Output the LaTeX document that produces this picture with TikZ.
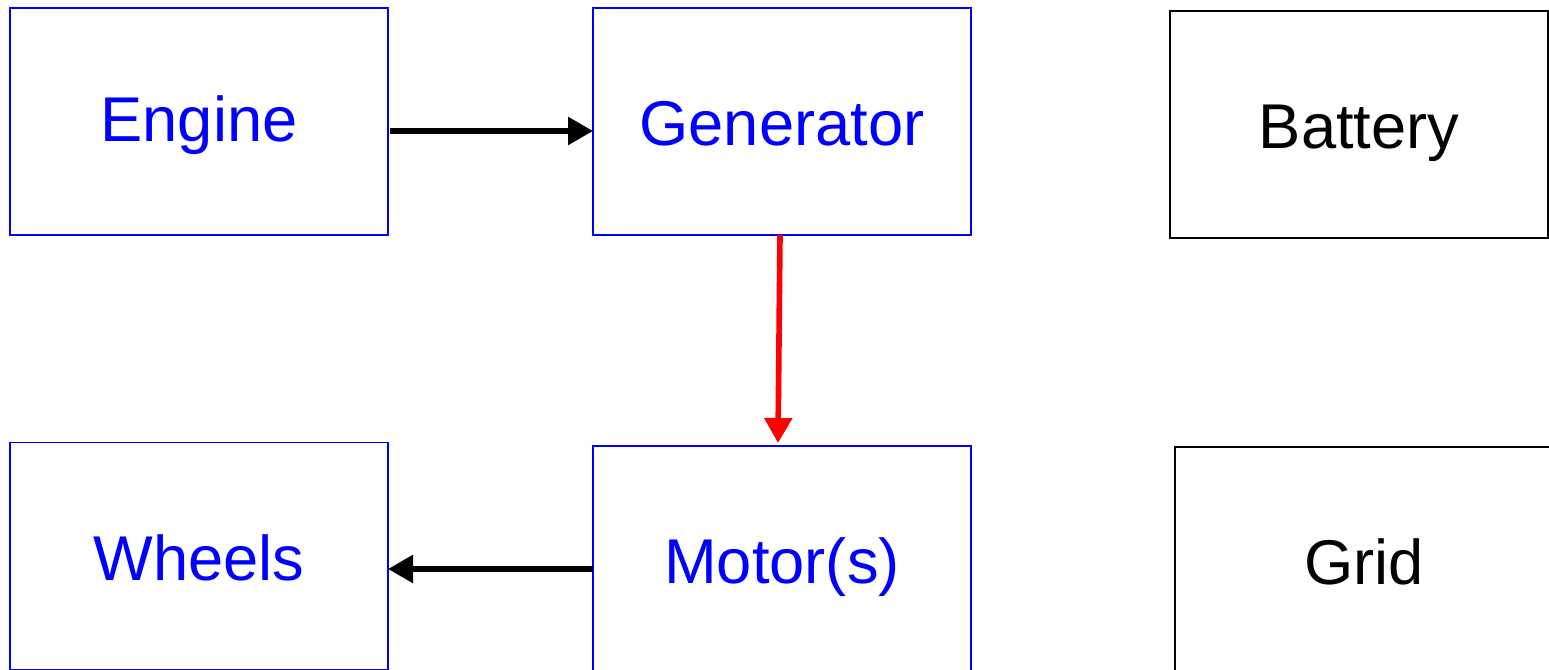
\documentclass[tikz,border=0pt]{standalone}
\usepackage{fontspec}
\setmainfont{Liberation Sans}
\usetikzlibrary{arrows.meta}

\begin{document}
\begin{tikzpicture}[
      part/.style={draw=blue, text=blue, line width=1pt, minimum width=7.56cm, minimum height=4.54cm, inner sep=0pt, outer sep=0pt, font=\fontsize{36}{43}\selectfont, text height=36pt, text depth=8.6pt},
      source/.style={part, draw=black, text=black},
      flow/.style={line width=3.2pt, -{Triangle[length=0.5cm,width=0.54cm]}}
    ]

      \useasboundingbox (0,0) rectangle (30.98,13.4);

      \node[part, text depth=13pt] (engine) at (3.98,10.97) {Engine};
      \node[part] (gen) at (15.64,10.97) {Generator};
      \node[source] (battery) at (27.18,10.91) {Battery};

      \node[part] (wheels) at (3.98,2.28) {Wheels};
      \node[part] (motor) at (15.64,2.21) {Motor(s)};
      \node[source] (grid) at (27.28,2.19) {Grid};

      \coordinate (mw) at ([yshift=-0.19cm]motor.west);

      \draw[flow] ([xshift=0.04cm,yshift=-0.19cm]engine.east) -- ([yshift=-0.19cm]gen.west);
      \draw[flow, red] ([xshift=-0.04cm]gen.south) -- ([xshift=-0.08cm,yshift=0.06cm]motor.north);
      \draw[flow] (mw) -- (mw -| wheels.east);

    \end{tikzpicture}
\end{document}
